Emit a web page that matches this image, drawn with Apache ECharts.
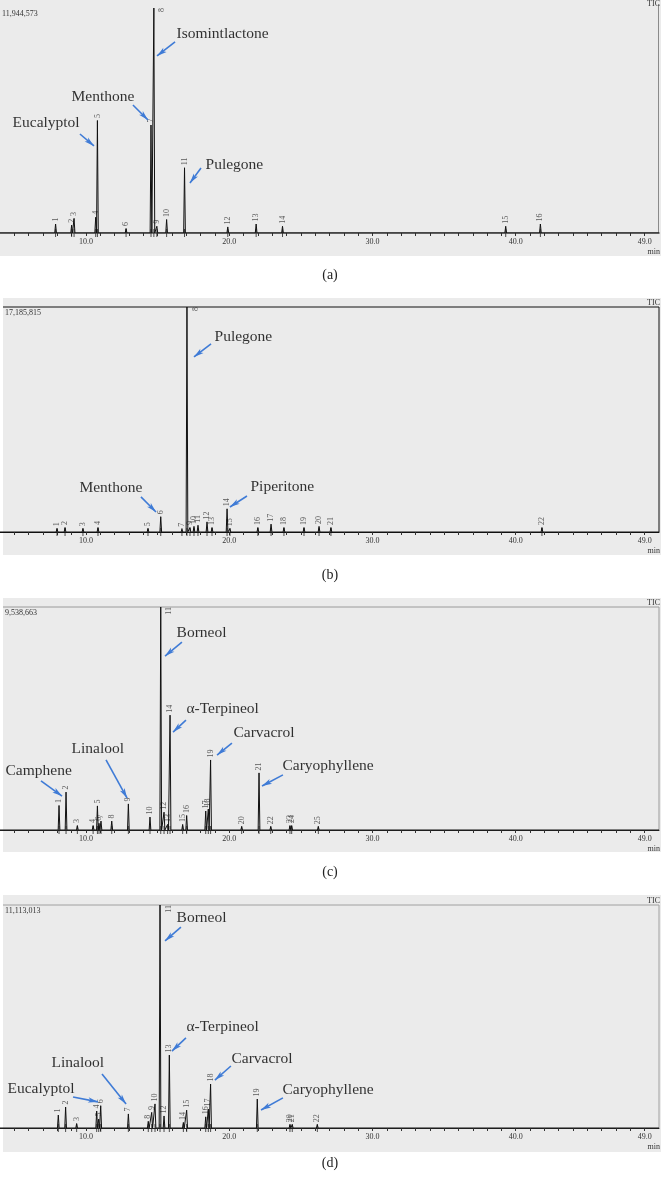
<!DOCTYPE html>
<html>
<head>
<meta charset="utf-8">
<title>TIC chromatograms</title>
<script src="https://cdn.jsdelivr.net/npm/echarts@6/dist/echarts.min.js"></script>
<style>
html, body { margin: 0; padding: 0; background: #fff; }
#main { width: 661px; height: 1181px; }
</style>
</head>
<body>
<div id="main"></div>
<script>
// retention time axis (min)
var timeMin = 4.0;
var timeMax = 50.0;
var tickLabels = [10, 20, 30, 40, 49];
var minorTicks = [5, 6, 7, 8, 9, 10, 11, 12, 13, 14, 15, 16, 17, 18, 19, 20, 21, 22, 23, 24, 25, 26, 27,
  28, 29, 30, 31, 32, 33, 34, 35, 36, 37, 38, 39, 40, 41, 42, 43, 44, 45, 46, 47, 48, 49];

// (a) peaks: retention time (min) / height (% of full scale)
var aTimes = [7.88, 9.0, 9.17, 10.68, 10.8, 12.8, 14.54, 14.74, 14.95, 15.63, 16.88, 19.9, 21.88, 23.72, 39.3, 41.72];
var aHeights = [4, 3.5, 6.5, 7, 50, 2, 48, 100, 3, 6, 29, 2.7, 4, 3, 3, 4];
var aMax = "11,944,573";

// (b)
var bTimes = [7.98, 8.54, 9.79, 10.84, 14.33, 15.22, 16.7, 17.05, 17.26, 17.54, 17.82, 18.45, 18.8, 19.85, 20.05,
  22.0, 22.92, 23.82, 25.22, 26.27, 27.1, 41.83];
var bHeights = [1.5, 2, 1.5, 2, 1.5, 6.8, 1.2, 100, 2, 2.5, 3, 4.5, 2, 10.3, 1.5, 2, 3.5, 2, 2, 2.5, 2, 2];
var bMax = "17,185,815";

// (c)
var cTimes = [8.12, 8.61, 9.4, 10.5, 10.8, 10.91, 11.05, 11.8, 12.96, 14.47, 15.22, 15.45, 15.7, 15.87, 16.75,
  17.03, 18.36, 18.54, 18.7, 20.87, 22.08, 22.9, 24.24, 24.36, 26.22];
var cHeights = [11, 17, 2, 2, 10.8, 3, 4, 4, 11.7, 5.8, 100, 8, 2.5, 51.5, 2.5, 6.5, 8.5, 9.4, 31.4, 1.5, 25.6, 1.5,
  2, 2, 1.5];
var cMax = "9,538,663";

// (d)
var dTimes = [8.07, 8.58, 9.35, 10.75, 10.89, 11.03, 12.96, 14.35, 14.59, 14.82, 15.17, 15.45, 15.82, 16.8, 17.03,
  18.36, 18.54, 18.7, 21.96, 24.24, 24.4, 26.15];
var dHeights = [5.8, 9.4, 2, 7.6, 4, 10, 6.3, 3, 7, 10.8, 100, 5.4, 32.7, 2.5, 8, 5, 8.5, 19.7, 13, 1.5, 1.5, 1.5];
var dMax = "11,113,013";

// compound call-outs: text anchor, arrow start, arrow tip (time, %)
var aNotes = [
  { name: "Isomintlactone", text: [16.29, 88.4], from: [16.22, 84.9], to: [14.96, 78.7] },
  { name: "Menthone", text: [8.96, 60.4], from: [13.28, 56.9], to: [14.33, 50.2] },
  { name: "Eucalyptol", text: [4.84, 48.9], from: [9.58, 44], to: [10.56, 38.7] },
  { name: "Pulegone", text: [18.31, 30.2], from: [18.03, 28.9], to: [17.26, 22.2] }
];
var bNotes = [
  { name: "Pulegone", text: [18.94, 86.7], from: [18.73, 83.6], to: [17.54, 77.8] },
  { name: "Menthone", text: [9.51, 19.6], from: [13.84, 15.6], to: [14.89, 8.9] },
  { name: "Piperitone", text: [21.45, 20], from: [21.24, 16], to: [20.05, 11.1] }
];
var cNotes = [
  { name: "Borneol", text: [16.29, 88.3], from: [16.7, 84.3], to: [15.52, 78] },
  { name: "α-Terpineol", text: [16.98, 54.3], from: [16.98, 49.3], to: [16.08, 43.9] },
  { name: "Carvacrol", text: [20.26, 43.5], from: [20.19, 39], to: [19.15, 33.6] },
  { name: "Caryophyllene", text: [23.68, 28.7], from: [23.75, 24.7], to: [22.29, 19.7] },
  { name: "Linalool", text: [8.96, 36.3], from: [11.4, 31.4], to: [12.87, 14.3] },
  { name: "Camphene", text: [4.35, 26.5], from: [6.86, 22], to: [8.33, 15.2] }
];
var dNotes = [
  { name: "Borneol", text: [16.29, 94.2], from: [16.63, 90.1], to: [15.52, 83.9] },
  { name: "α-Terpineol", text: [16.98, 45.3], from: [16.98, 40.4], to: [16.0, 34.5] },
  { name: "Carvacrol", text: [20.12, 30.9], from: [20.12, 27.8], to: [19.0, 21.5] },
  { name: "Caryophyllene", text: [23.68, 17], from: [23.75, 13.5], to: [22.22, 8.1] },
  { name: "Linalool", text: [7.56, 29.1], from: [11.12, 24.2], to: [12.8, 10.8] },
  { name: "Eucalyptol", text: [4.49, 17.5], from: [9.1, 13.9], to: [10.84, 11.7] }
];

var SERIF = "'Liberation Serif', 'DejaVu Serif', serif";

var panels = [
  { tag: "(a)", times: aTimes, heights: aHeights, max: aMax, notes: aNotes,
    top: 8, height: 225, bgTop: 0, bgLeft: 0, bgBottom: 256, capY: 275, border: null, axisColor: "#555", axisWidth: 1.6 },
  { tag: "(b)", times: bTimes, heights: bHeights, max: bMax, notes: bNotes,
    top: 307, height: 225, bgTop: 298, bgLeft: 3, bgBottom: 555, capY: 575, border: "#111", axisColor: "#111", axisWidth: 1 },
  { tag: "(c)", times: cTimes, heights: cHeights, max: cMax, notes: cNotes,
    top: 607, height: 223, bgTop: 598, bgLeft: 3, bgBottom: 852, capY: 872, border: "#9a9a9a", axisColor: "#222", axisWidth: 1 },
  { tag: "(d)", times: dTimes, heights: dHeights, max: dMax, notes: dNotes,
    top: 905, height: 223, bgTop: 895, bgLeft: 3, bgBottom: 1152, capY: 1163, border: "#a0a0a0", axisColor: "#222", axisWidth: 1 }
];

// each peak drawn as a narrow spike on the baseline
function peakLine(times, heights) {
  var pts = [[timeMin, 0]];
  for (var i = 0; i < times.length; i++) {
    pts.push([times[i] - 0.06, 0], [times[i], heights[i]], [times[i] + 0.06, 0]);
  }
  pts.push([timeMax, 0]);
  return pts;
}

var chart = echarts.init(document.getElementById("main"), null, { renderer: "canvas" });

var grids = [], xAxes = [], yAxes = [], series = [], graphics = [];

panels.forEach(function (p, k) {
  grids.push({ left: 0, right: 2, top: p.top, height: p.height, outerBoundsMode: "none" });
  xAxes.push({
    gridIndex: k, type: "value", min: timeMin, max: timeMax,
    splitLine: { show: false },
    axisLine: { show: true, lineStyle: { color: p.axisColor, width: p.axisWidth } },
    axisTick: { show: true, customValues: minorTicks, length: 3, lineStyle: { color: "#333" } },
    axisLabel: {
      customValues: tickLabels, margin: 5, fontSize: 8, color: "#333", fontFamily: SERIF,
      formatter: function (v) { return v.toFixed(1); }
    }
  });
  yAxes.push({ gridIndex: k, type: "value", min: 0, max: 100, show: false });

  series.push({
    type: "line", xAxisIndex: k, yAxisIndex: k, data: peakLine(p.times, p.heights),
    symbol: "none", silent: true, z: 3, animation: false,
    lineStyle: { color: "#111", width: 1 }
  });
  // integration marks at each peak
  series.push({
    type: "scatter", xAxisIndex: k, yAxisIndex: k, silent: true, animation: false, clip: false,
    data: p.times.map(function (t) { return [t, 0]; }),
    symbol: "rect", symbolSize: [1, 8], itemStyle: { color: "#222" }
  });
  // peak numbers
  series.push({
    type: "scatter", xAxisIndex: k, yAxisIndex: k, silent: true, animation: false, clip: false,
    symbolSize: 1, itemStyle: { color: "rgba(0,0,0,0)" },
    data: p.times.map(function (t, i) {
      var item = { name: String(i + 1), value: [t, p.heights[i]] };
      if (p.heights[i] >= 95) {
        item.label = { position: "right", distance: 8, align: "right", verticalAlign: "middle" };
      }
      return item;
    }),
    label: {
      show: true, formatter: "{b}", position: "top", distance: 2, rotate: 90,
      align: "left", verticalAlign: "middle", fontSize: 8, color: "#333", fontFamily: SERIF
    }
  });
  // compound names with arrows
  series.push({
    type: "scatter", xAxisIndex: k, yAxisIndex: k, silent: true, animation: false, clip: false,
    symbolSize: 1, itemStyle: { color: "rgba(0,0,0,0)" },
    data: p.notes.map(function (n) { return { name: n.name, value: n.text }; }),
    label: {
      show: true, formatter: "{b}", position: "right", distance: 0,
      fontSize: 15.5, color: "#000", fontFamily: SERIF
    },
    markLine: {
      silent: true, animation: false, symbol: ["none", "arrow"], symbolSize: [4, 10],
      label: { show: false },
      lineStyle: { color: "#3f7bd6", width: 1.6, type: "solid" },
      emphasis: { disabled: true },
      data: p.notes.map(function (n) { return [{ coord: n.from }, { coord: n.to }]; })
    }
  });

  // panel background, frame and texts
  graphics.push({
    type: "rect", z: -10, silent: true,
    shape: { x: p.bgLeft, y: p.bgTop, width: 661 - p.bgLeft, height: p.bgBottom - p.bgTop },
    style: { fill: "#ebebeb" }
  });
  var base = p.top + p.height;
  if (p.border) {
    graphics.push({
      type: "polyline", z: -5, silent: true,
      shape: { points: [[p.bgLeft, p.top], [659, p.top], [659, base]] },
      style: { stroke: p.border, lineWidth: 1, fill: null }
    });
  } else {
    graphics.push({
      type: "line", z: -5, silent: true,
      shape: { x1: 658.5, y1: 4, x2: 658.5, y2: base },
      style: { stroke: "#8a8a8a", lineWidth: 1 }
    });
  }
  graphics.push({
    type: "text", silent: true,
    style: { text: p.max, x: p.bgLeft + 2, y: p.top + 6, textVerticalAlign: "middle",
      font: "8px " + SERIF, fill: "#333" }
  });
  graphics.push({
    type: "text", silent: true,
    style: { text: "TIC", x: 660, y: p.top - 4, textAlign: "right", textVerticalAlign: "middle",
      font: "8px " + SERIF, fill: "#333" }
  });
  graphics.push({
    type: "text", silent: true,
    style: { text: "min", x: 660, y: base + 19, textAlign: "right", textVerticalAlign: "middle",
      font: "8px " + SERIF, fill: "#333" }
  });
  graphics.push({
    type: "text", silent: true,
    style: { text: p.tag, x: 330, y: p.capY, textAlign: "center", textVerticalAlign: "middle",
      font: "14px " + SERIF, fill: "#222" }
  });
});

chart.setOption({
  backgroundColor: "#ffffff",
  animation: false,
  grid: grids,
  xAxis: xAxes,
  yAxis: yAxes,
  series: series,
  graphic: graphics
});
</script>
</body>
</html>
